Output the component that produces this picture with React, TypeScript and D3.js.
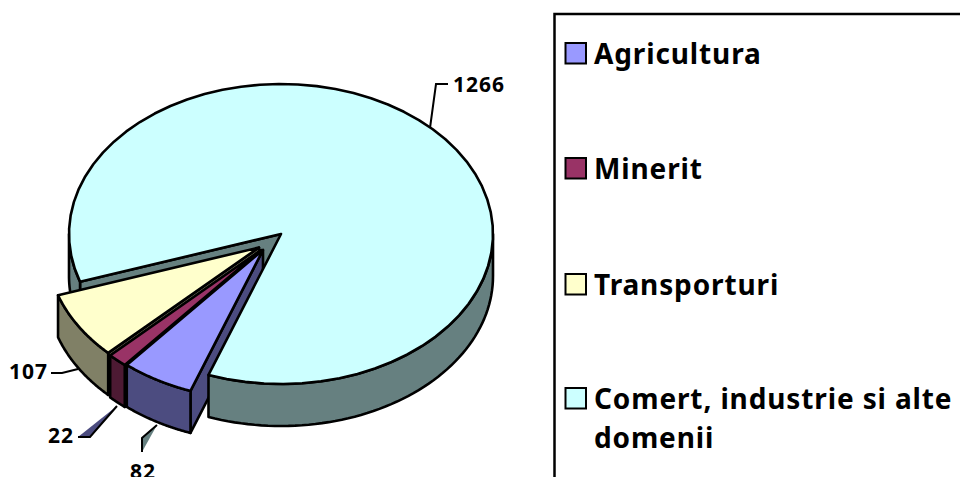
import React from 'react';
import * as d3 from 'd3';

const categories = ['Agricultura', 'Minerit', 'Transporturi', 'Comert, industrie si alte domenii'];
const values = [82, 22, 107, 1266];
const topColors = ['#9999ff', '#993366', '#ffffcc', '#ccffff'];
const sideColors = ['#4c4c80', '#4d1a33', '#808066', '#668080'];

const width = 960;
const height = 477;
const rx = 212;
const ry = 150;
const depth = 42;
const rad = Math.PI / 180;
const FONT = '"Noto Sans", sans-serif';

// centre of every slice, the first three are pulled out of the pie
const centers = [
  [263, 250],
  [261, 250],
  [259, 247.5],
  [281, 234],
];

const slices = d3
  .pie<number>()
  .sort(null)
  .startAngle(200 * rad)
  .endAngle((200 + 360) * rad)(values);

const line = d3.line();

const rim = (i: number, a: number, dy = 0): [number, number] => [
  centers[i][0] + rx * Math.sin(a),
  centers[i][1] - ry * Math.cos(a) + dy,
];

const arcPts = (i: number, a0: number, a1: number, dy = 0) =>
  d3.range(0, 61).map((k) => rim(i, a0 + ((a1 - a0) * k) / 60, dy));

const topFace = (i: number) => {
  const s = slices[i];
  return line([[centers[i][0], centers[i][1]], ...arcPts(i, s.startAngle, s.endAngle)]) + 'Z';
};

const outerWall = (i: number, a0: number, a1: number) =>
  line([...arcPts(i, a0, a1), ...arcPts(i, a1, a0, depth)]) + 'Z';

// the straight cut wall between the centre and the rim at angle a
const cutWall = (i: number, a: number) =>
  line([
    [centers[i][0], centers[i][1]],
    rim(i, a),
    rim(i, a, depth),
    [centers[i][0], centers[i][1] + depth],
  ]) + 'Z';

const legendTop = [53, 168, 284, 398];

const leaders = [
  { pts: [[430, 128], [436, 84], [448, 84]], fill: 'none' },
  { pts: [[51, 373], [62, 373], [78, 369]], fill: 'none' },
  { pts: [[78, 437], [90, 437], [117, 406]], fill: '#4c4c80' },
  { pts: [[142, 452], [142, 438], [157, 425]], fill: '#668080' },
];

const labels = [
  { text: '1266', x: 453, y: 92 },
  { text: '107', x: 9, y: 379 },
  { text: '22', x: 48, y: 443 },
  { text: '82', x: 130, y: 479 },
];

const App = () => {
  const comert = slices[3];
  const stroke = { stroke: '#000', strokeWidth: 2.6, strokeLinejoin: 'round' as const };
  return (
    <svg
      width={width}
      height={height}
      style={{ position: 'absolute', left: 0, top: 0, display: 'block', background: '#fff' }}
    >
      {/* back part of the big slice, the pulled out slices sit on top of it */}
      <path d={cutWall(3, comert.startAngle)} fill={sideColors[3]} {...stroke} />
      <path d={outerWall(3, comert.startAngle, 270 * rad)} fill={sideColors[3]} {...stroke} />

      {[2, 1, 0].map((i) => (
        <g key={categories[i]}>
          <path d={cutWall(i, slices[i].startAngle)} fill={sideColors[i]} {...stroke} />
          <path d={outerWall(i, slices[i].startAngle, slices[i].endAngle)} fill={sideColors[i]} {...stroke} />
          <path d={topFace(i)} fill={topColors[i]} {...stroke} />
        </g>
      ))}

      <path d={outerWall(3, 450 * rad, comert.endAngle)} fill={sideColors[3]} {...stroke} />
      <path d={topFace(3)} fill={topColors[3]} {...stroke} />

      {leaders.map((l, i) => (
        <polyline
          key={i}
          points={l.pts.map((p) => p.join(',')).join(' ')}
          fill={l.fill}
          stroke="#000"
          strokeWidth={2}
        />
      ))}
      {labels.map((l) => (
        <text
          key={l.text}
          x={l.x}
          y={l.y}
          fontFamily={FONT}
          fontWeight={700}
          fontSize={21}
          letterSpacing={1}
          fill="#000"
        >
          {l.text}
        </text>
      ))}

      <rect x={554.5} y={14} width={500} height={600} fill="none" stroke="#000" strokeWidth={2.5} />
      {categories.map((c, i) => (
        <g key={c}>
          <rect
            x={565.5}
            y={legendTop[i] - 10}
            width={20.5}
            height={20.5}
            fill={topColors[i]}
            stroke="#000"
            strokeWidth={2}
          />
          <text
            x={594}
            y={legendTop[i] + 11}
            fontFamily={FONT}
            fontWeight={700}
            fontSize={28}
            letterSpacing={0.87}
            fill="#000"
          >
            {i === 3 ? 'Comert, industrie si alte' : c}
          </text>
          {i === 3 && (
            <text
              x={594}
              y={legendTop[i] + 50}
              fontFamily={FONT}
              fontWeight={700}
              fontSize={28}
              letterSpacing={0.87}
              fill="#000"
            >
              domenii
            </text>
          )}
        </g>
      ))}
    </svg>
  );
};

export default App;
